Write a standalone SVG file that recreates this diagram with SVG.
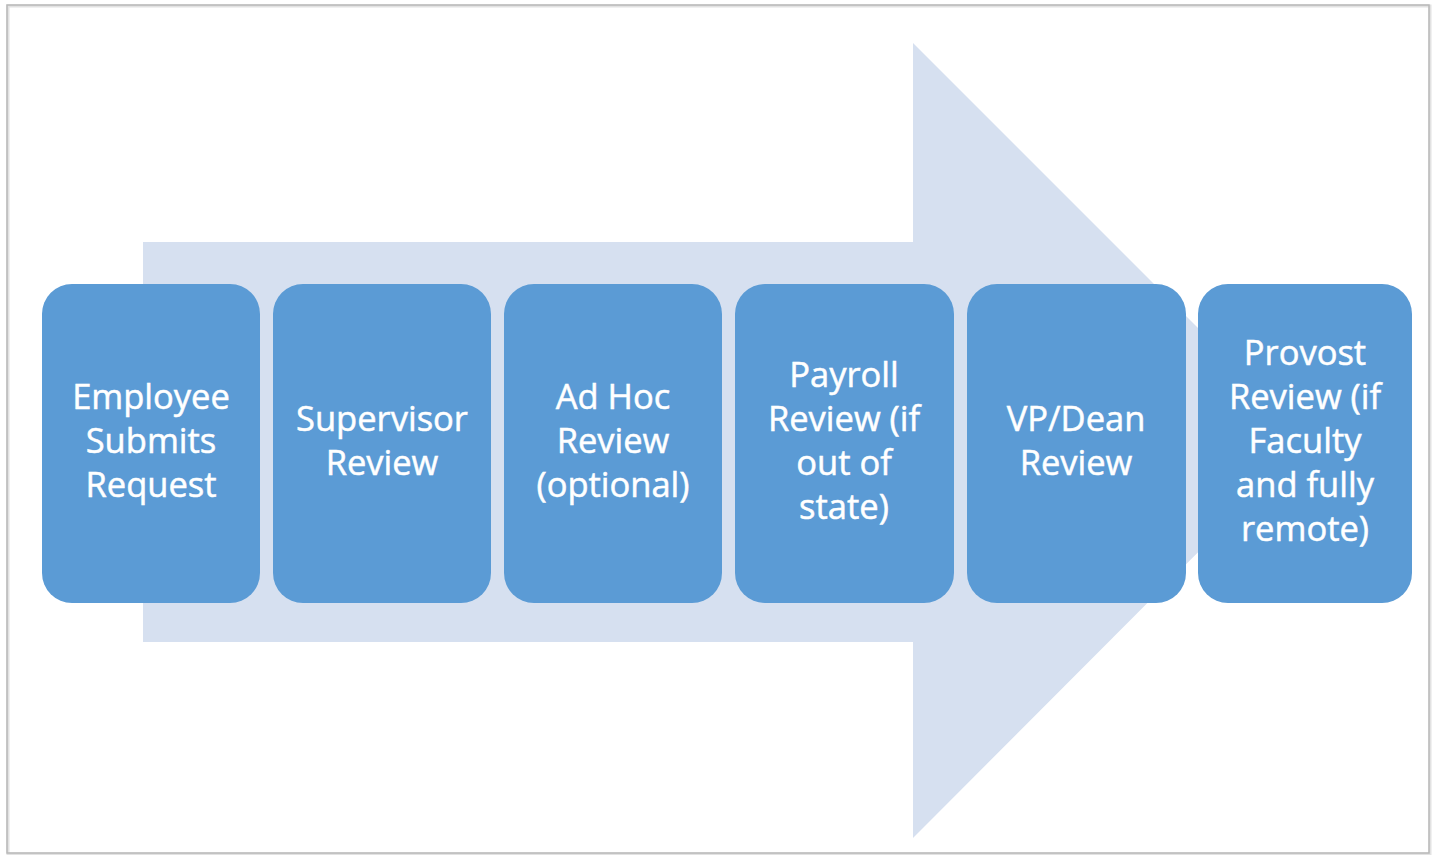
<svg xmlns="http://www.w3.org/2000/svg" width="1434" height="855" viewBox="0 0 1434 855">
  <style>
    .box { fill: #5b9bd5; }
    .lbl { fill: #ffffff; stroke: #ffffff; stroke-width: 0.5px; font-family: "Open Sans", "Noto Sans", sans-serif; font-size: 34.5px; text-anchor: middle; }
  </style>
  <rect x="0" y="0" width="1434" height="855" fill="#ffffff"/>
  <rect x="8" y="6" width="1422" height="848" fill="none" stroke="#e2e2e2" stroke-width="3"/>
  <rect x="7" y="5" width="1422" height="848" fill="none" stroke="#b8b8b8" stroke-width="1.5"/>
  <g id="arrow">
    <polygon points="143,242 913,242 913,43 1310,440 913,838 913,642 143,642" fill="#d6e0f0"/>
  </g>
  <g id="connectors"></g>
  <g id="n1">
    <rect class="box" x="42" y="284" width="218" height="319" rx="30"/>
    <text class="lbl" x="151" y="409">Employee</text>
    <text class="lbl" x="151" y="453">Submits</text>
    <text class="lbl" x="151" y="497">Request</text>
  </g>
  <g id="n2">
    <rect class="box" x="273" y="284" width="218" height="319" rx="30"/>
    <text class="lbl" x="382" y="431">Supervisor</text>
    <text class="lbl" x="382" y="475">Review</text>
  </g>
  <g id="n3">
    <rect class="box" x="504" y="284" width="218" height="319" rx="30"/>
    <text class="lbl" x="613" y="409">Ad Hoc</text>
    <text class="lbl" x="613" y="453">Review</text>
    <text class="lbl" x="613" y="497">(optional)</text>
  </g>
  <g id="n4">
    <rect class="box" x="735" y="284" width="219" height="319" rx="30"/>
    <text class="lbl" x="844" y="387">Payroll</text>
    <text class="lbl" x="844" y="431">Review (if</text>
    <text class="lbl" x="844" y="475">out of</text>
    <text class="lbl" x="844" y="519">state)</text>
  </g>
  <g id="n5">
    <rect class="box" x="967" y="284" width="219" height="319" rx="30"/>
    <text class="lbl" x="1076" y="431">VP/Dean</text>
    <text class="lbl" x="1076" y="475">Review</text>
  </g>
  <g id="n6">
    <rect class="box" x="1198" y="284" width="214" height="319" rx="30"/>
    <text class="lbl" x="1305" y="365">Provost</text>
    <text class="lbl" x="1305" y="409">Review (if</text>
    <text class="lbl" x="1305" y="453">Faculty</text>
    <text class="lbl" x="1305" y="497">and fully</text>
    <text class="lbl" x="1305" y="541">remote)</text>
  </g>
</svg>
